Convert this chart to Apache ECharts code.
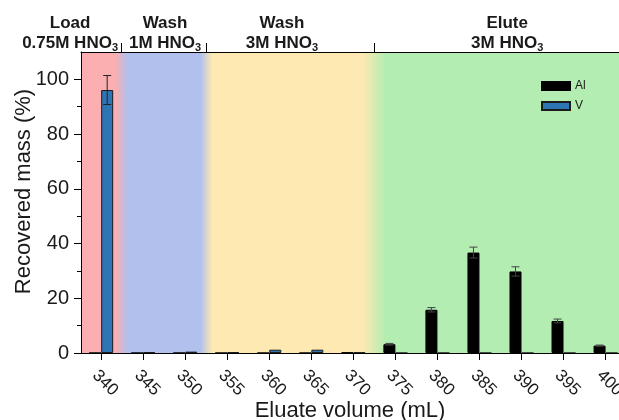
<!DOCTYPE html>
<html>
<head>
<meta charset="utf-8">
<script src="https://cdn.jsdelivr.net/npm/echarts@6/dist/echarts.min.js"></script>
<style>
html, body { margin: 0; padding: 0; background: #fff; }
#chart { width: 619px; height: 420px; }
</style>
</head>
<body>
<div id="chart"></div>
<script>
// data
var volumes = [340, 345, 350, 355, 360, 365, 370, 375, 380, 385, 390, 395, 400];
var alMass  = [0, 0, 0, 0, 0, 0, 0.2, 3.2, 15.8, 36.7, 29.8, 11.7, 2.7];
var alErr   = [0, 0, 0, 0, 0, 0, 0, 0.3, 0.8, 2.0, 1.7, 0.7, 0.2];
var vMass   = [96.1, 0.3, 0.5, 0.3, 1.2, 1.2, 0.2, 0, 0, 0, 0, 0, 0];
var vErr    = [5.3, 0, 0, 0, 0, 0, 0, 0, 0, 0, 0, 0, 0];
var yTicks  = [0, 20, 40, 60, 80, 100];
var yMinor  = [10, 30, 50, 70, 90];

// elution phases
var phaseEdges   = [342.4, 352.5, 372.5];
var phaseCenters = [336.3, 347.6, 361.5, 388.3];
var phaseNames   = ['Load', 'Wash', 'Wash', 'Elute'];
var phaseAcid    = ['0.75M', '1M', '3M', '3M'];
var phaseColors  = ['#FBAFB0', '#B2C0EE', '#FDE9B1', '#B3EDB2'];

var xMin = 337.6, xMax = 401.6, yMax = 110;
var font = "'Liberation Sans', Arial, sans-serif";
var txt = '#1a1a1a';

var chartDom = document.getElementById('chart');
var myChart = echarts.init(chartDom);

function off(v) {
    return Math.max(0, Math.min(1, (v - xMin) / (xMax - xMin)));
}
var blend = [0.7, 0.7, 1.4];
var stops = [{ offset: 0, color: phaseColors[0] }];
for (var k = 0; k < phaseEdges.length; k++) {
    stops.push({ offset: off(phaseEdges[k] - blend[k]), color: phaseColors[k] });
    stops.push({ offset: off(phaseEdges[k] + blend[k]), color: phaseColors[k + 1] });
}
stops.push({ offset: 1, color: phaseColors[3] });

function errBars(vals, errs, shift, color) {
    return {
        type: 'custom',
        z: 4,
        silent: true,
        data: volumes.map(function (x, i) { return [x, vals[i], errs[i]]; }).filter(function (d) { return d[2] > 0; }),
        renderItem: function (params, api) {
            var x = api.value(0), v = api.value(1), e = api.value(2);
            var hi = api.coord([x, v + e]);
            var lo = api.coord([x, v - e]);
            var cx = hi[0] + shift;
            var st = { stroke: color, lineWidth: 1 };
            return {
                type: 'group',
                children: [
                    { type: 'line', shape: { x1: cx, y1: lo[1], x2: cx, y2: hi[1] }, style: st },
                    { type: 'line', shape: { x1: cx - 4, y1: hi[1], x2: cx + 4, y2: hi[1] }, style: st },
                    { type: 'line', shape: { x1: cx - 4, y1: lo[1], x2: cx + 4, y2: lo[1] }, style: st }
                ]
            };
        }
    };
}

var option = {
    backgroundColor: '#fff',
    animation: false,
    textStyle: { fontFamily: font },
    grid: { left: 81, right: 0, top: 52, bottom: 67, outerBoundsMode: 'none', containLabel: false },
    legend: {
        data: ['Al', 'V'],
        orient: 'vertical',
        left: 541,
        top: 80,
        padding: 0,
        itemWidth: 28,
        itemHeight: 8,
        itemGap: 8,
        icon: 'rect',
        textStyle: { fontSize: 12, color: txt, fontFamily: font }
    },
    xAxis: [{
        type: 'value',
        min: xMin,
        max: xMax,
        z: 10,
        name: 'Eluate volume (mL)',
        nameLocation: 'middle',
        nameGap: 47,
        nameMoveOverlap: false,
        nameTextStyle: { fontSize: 22, color: txt, fontFamily: font },
        axisLine: { show: true, onZero: false, lineStyle: { color: '#000', width: 1 } },
        axisTick: { show: true, length: 7, customValues: volumes, lineStyle: { color: '#000' } },
        axisLabel: {
            customValues: volumes,
            rotate: -45,
            align: 'left',
            verticalAlign: 'top',
            margin: 14,
            fontSize: 17,
            color: txt
        },
        splitLine: { show: false }
    }, {
        type: 'value',
        position: 'top',
        min: xMin,
        max: xMax,
        z: 10,
        axisLine: { show: true, onZero: false, lineStyle: { color: '#000', width: 1 } },
        axisTick: { show: true, length: 9, customValues: phaseEdges, lineStyle: { color: '#000' } },
        axisLabel: { show: false },
        splitLine: { show: false }
    }],
    yAxis: [{
        type: 'value',
        min: 0,
        max: yMax,
        z: 10,
        name: 'Recovered mass (%)',
        nameLocation: 'middle',
        nameGap: 46,
        nameMoveOverlap: false,
        nameTextStyle: { fontSize: 22, color: txt, fontFamily: font, padding: [0, 0, 0, 22] },
        axisLine: { show: true, onZero: false, lineStyle: { color: '#000', width: 1 } },
        axisTick: { show: true, length: 7, customValues: yTicks, lineStyle: { color: '#000' } },
        axisLabel: { customValues: yTicks, margin: 12, fontSize: 20, color: txt },
        splitLine: { show: false }
    }, {
        type: 'value',
        position: 'left',
        offset: 0,
        min: 0,
        max: yMax,
        z: 10,
        axisLine: { show: false, onZero: false },
        axisTick: { show: true, length: 4, customValues: yMinor, lineStyle: { color: '#000' } },
        axisLabel: { show: false },
        splitLine: { show: false }
    }],
    series: [
        {
            // coloured phase background
            type: 'custom',
            z: 0,
            silent: true,
            data: [[xMin, xMax]],
            renderItem: function (params, api) {
                var a = api.coord([api.value(0), yMax]);
                var b = api.coord([api.value(1), 0]);
                return {
                    type: 'rect',
                    shape: { x: a[0], y: a[1], width: b[0] - a[0], height: b[1] - a[1] },
                    style: { fill: new echarts.graphic.LinearGradient(0, 0, 1, 0, stops) }
                };
            }
        },
        {
            name: 'Al',
            type: 'bar',
            z: 3,
            barWidth: 12,
            barGap: '0%',
            itemStyle: { color: '#000', borderColor: '#000', borderWidth: 1 },
            data: volumes.map(function (x, i) { return [x, alMass[i]]; })
        },
        {
            name: 'V',
            type: 'bar',
            z: 3,
            barWidth: 12,
            barGap: '0%',
            itemStyle: { color: '#2E75B6', borderColor: '#1a1a1a', borderWidth: 1 },
            data: volumes.map(function (x, i) { return [x, vMass[i]]; })
        },
        errBars(alMass, alErr, -6, '#444'),
        errBars(vMass, vErr, 6, '#222'),
        {
            // phase headings above the plot
            type: 'custom',
            z: 5,
            silent: true,
            clip: false,
            data: phaseCenters.map(function (c, i) { return [c, yMax, i]; }),
            renderItem: function (params, api) {
                var i = api.value(2);
                var p = api.coord([api.value(0), api.value(1)]);
                return {
                    type: 'text',
                    style: {
                        x: p[0],
                        y: p[1] + 1,
                        align: 'center',
                        verticalAlign: 'bottom',
                        text: '{b|' + phaseNames[i] + '}\n{b|' + phaseAcid[i] + ' HNO}{s|3}',
                        rich: {
                            b: { fontSize: 17, fontWeight: 'bold', fontFamily: font, fill: txt, lineHeight: 20 },
                            s: { fontSize: 11, fontWeight: 'bold', fontFamily: font, fill: txt, lineHeight: 12, verticalAlign: 'bottom' }
                        }
                    }
                };
            }
        }
    ]
};
option && myChart.setOption(option);
</script>
</body>
</html>
